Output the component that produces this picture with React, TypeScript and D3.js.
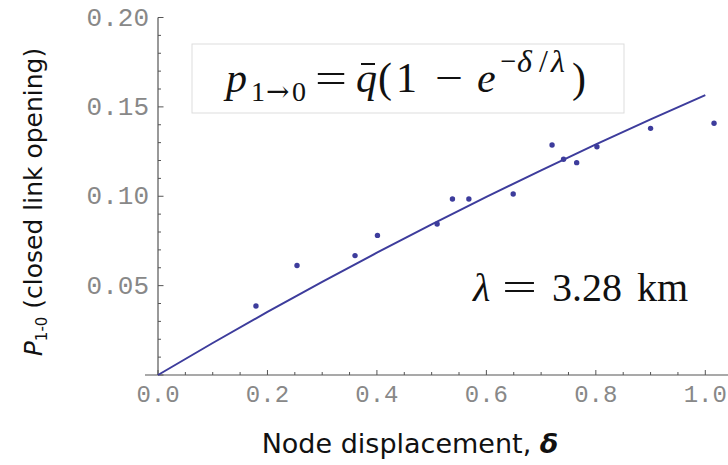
import React from "react";
import * as d3 from "d3";

const deltaValues = [0.179, 0.254, 0.36, 0.401, 0.51, 0.538, 0.568, 0.649, 0.72, 0.741, 0.765, 0.802, 0.9, 1.016];
const pValues = [0.0386, 0.0613, 0.0668, 0.0781, 0.0845, 0.0985, 0.0985, 0.1013, 0.1287, 0.1207, 0.1188, 0.1277, 0.138, 0.1408];

const fitDelta = [0, 0.1, 0.2, 0.3, 0.4, 0.5, 0.6, 0.7, 0.8, 0.9, 1.0];
const fitP = [0, 0.0179, 0.0353, 0.0521, 0.0684, 0.0843, 0.0996, 0.1145, 0.129, 0.143, 0.1566];

const xTickLabels = ["0.0", "0.2", "0.4", "0.6", "0.8", "1.0"];
const yTickLabels = ["0.05", "0.10", "0.15", "0.20"];

const W = 728;
const H = 465;

export default function App() {
  const x = d3.scaleLinear().domain([0, 1]).range([158, 705.3]);
  const y = d3.scaleLinear().domain([0, 0.2]).range([375, 17.5]);

  const line = d3
    .line<number>()
    .x((_, i) => x(fitDelta[i]))
    .y((d) => y(d))
    .curve(d3.curveMonotoneX);

  const xMinor = d3.range(0, 21).map((i) => i * 0.05).filter((v) => x(v) < W);
  const yMinor = d3.range(0, 21).map((i) => i * 0.01);

  const axisColor = "#555";
  const tickLabelColor = "#888";
  const markColor = "#3d3c9c";

  return (
    <svg
      width={W}
      height={H}
      style={{ position: "absolute", left: 0, top: 0, background: "#fff" }}
    >
      <rect x={0} y={0} width={W} height={H} fill="#fff" />
      {/* axes */}
      <line x1={145} x2={W} y1={y(0)} y2={y(0)} stroke={axisColor} strokeWidth={1.2} />
      <line x1={x(0)} x2={x(0)} y1={y(0)} y2={y(0.2)} stroke={axisColor} strokeWidth={1.2} />
      {xMinor.map((v, i) => {
        const major = Math.abs(v * 5 - Math.round(v * 5)) < 1e-6;
        return (
          <line
            key={"xt" + i}
            x1={x(v)}
            x2={x(v)}
            y1={y(0)}
            y2={y(0) - (major ? 5 : 3)}
            stroke={axisColor}
            strokeWidth={1}
          />
        );
      })}
      {yMinor.map((v, i) => {
        const major = i % 5 === 0;
        return (
          <line
            key={"yt" + i}
            x1={x(0)}
            x2={x(0) + (major ? 5.5 : 3)}
            y1={y(v)}
            y2={y(v)}
            stroke={axisColor}
            strokeWidth={1}
          />
        );
      })}
      {xTickLabels.map((t) => (
        <text
          key={"xl" + t}
          x={x(+t)}
          y={402}
          textAnchor="middle"
          fontFamily="'Liberation Mono', monospace"
          fontSize={24}
          fill={tickLabelColor}
        >
          {t}
        </text>
      ))}
      {yTickLabels.map((t) => (
        <text
          key={"yl" + t}
          x={149}
          y={y(+t) + 8}
          textAnchor="end"
          fontFamily="'Liberation Mono', monospace"
          fontSize={26}
          fill={tickLabelColor}
        >
          {t}
        </text>
      ))}

      {/* axis titles */}
      <text
        x={410}
        y={453}
        textAnchor="middle"
        fontFamily="'DejaVu Sans', sans-serif"
        fontSize={27}
        fill="#111"
      >
        Node displacement, <tspan fontStyle="italic" fontWeight="bold">δ</tspan>
      </text>
      <text
        transform="translate(42,202) rotate(-90)"
        textAnchor="middle"
        fontFamily="'DejaVu Sans', sans-serif"
        fontSize={25}
        fill="#111"
      >
        <tspan fontStyle="italic">P</tspan>
        <tspan fontSize={15} dy={5}>1-0</tspan>
        <tspan dy={-5}> (closed link opening)</tspan>
      </text>

      {/* fit curve */}
      <path d={line(fitP) || ""} fill="none" stroke={markColor} strokeWidth={2} />
      {/* data points */}
      {deltaValues.map((d, i) => (
        <circle key={"p" + i} cx={x(d)} cy={y(pValues[i])} r={2.7} fill={markColor} />
      ))}

      {/* equation box */}
      <rect x={192} y={44} width={432} height={69} fill="#fff" stroke="#ddd" strokeWidth={1} />
      <text fontFamily="'Liberation Serif', serif" fontSize={42} fill="#111" y={92}>
        <tspan x={226} fontStyle="italic">p</tspan>
        <tspan x={251} y={101} fontSize={28}>1</tspan>
        <tspan x={266} y={101} fontSize={28} fontFamily="'DejaVu Serif', serif">→</tspan>
        <tspan x={292} y={101} fontSize={28}>0</tspan>
        <tspan x={315} y={92} textLength={32} lengthAdjust="spacingAndGlyphs">=</tspan>
        <tspan x={356} fontStyle="italic">q</tspan>
        <tspan x={378}>(</tspan>
        <tspan x={396}>1</tspan>
        <tspan x={435} textLength={28} lengthAdjust="spacingAndGlyphs">−</tspan>
        <tspan x={477} fontStyle="italic">e</tspan>
        <tspan x={500} y={72} fontSize={32} textLength={16} lengthAdjust="spacingAndGlyphs">−</tspan>
        <tspan x={517} y={72} fontSize={32} fontStyle="italic">δ</tspan>
        <tspan x={539} y={72} fontSize={32}>/</tspan>
        <tspan x={551} y={72} fontSize={32} fontStyle="italic">λ</tspan>
        <tspan x={572} y={92}>)</tspan>
      </text>
      <line x1={361} x2={375} y1={64} y2={64} stroke="#111" strokeWidth={2} />

      {/* lambda label */}
      <text fontFamily="'Liberation Serif', serif" fontSize={40} fill="#111" y={301}>
        <tspan x={473} fontStyle="italic">λ</tspan>
        <tspan x={502} textLength={35} lengthAdjust="spacingAndGlyphs">=</tspan>
        <tspan x={552}>3.28</tspan>
        <tspan x={637}>km</tspan>
      </text>
    </svg>
  );
}
